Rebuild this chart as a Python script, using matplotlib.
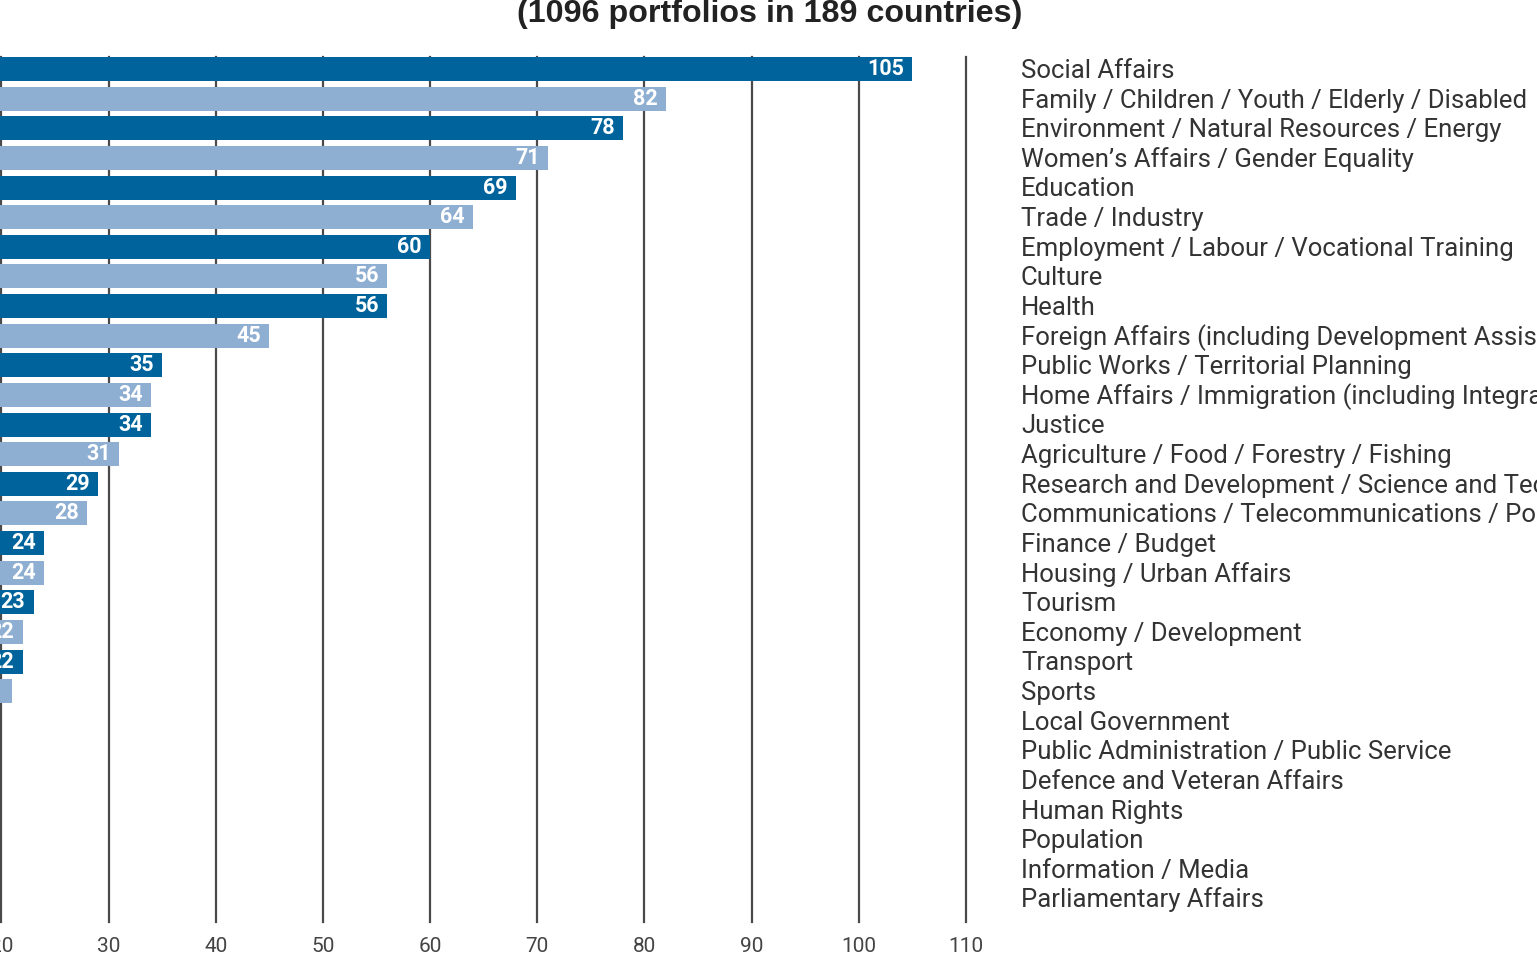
import matplotlib
matplotlib.use("Agg")
import matplotlib.pyplot as plt
from matplotlib.transforms import blended_transform_factory

categories = [
    "Social Affairs",
    "Family / Children / Youth / Elderly / Disabled",
    "Environment / Natural Resources / Energy",
    "Women\u2019s Affairs / Gender Equality",
    "Education",
    "Trade / Industry",
    "Employment / Labour / Vocational Training",
    "Culture",
    "Health",
    "Foreign Affairs (including Development Assistance)",
    "Public Works / Territorial Planning",
    "Home Affairs / Immigration (including Integration)",
    "Justice",
    "Agriculture / Food / Forestry / Fishing",
    "Research and Development / Science and Technology",
    "Communications / Telecommunications / Post",
    "Finance / Budget",
    "Housing / Urban Affairs",
    "Tourism",
    "Economy / Development",
    "Transport",
    "Sports",
    "Local Government",
    "Public Administration / Public Service",
    "Defence and Veteran Affairs",
    "Human Rights",
    "Population",
    "Information / Media",
    "Parliamentary Affairs",
]
# printed value labels
values = [105, 82, 78, 71, 69, 64, 60, 56, 56, 45, 35, 34, 34, 31, 29, 28,
          24, 24, 23, 22, 22, 21, 19, 16, 14, 12, 9, 7, 6]
# bar lengths as drawn in the picture (Education bar is drawn at ~68)
bar_lengths = [105, 82, 78, 71, 68, 64, 60, 56, 56, 45, 35, 34, 34, 31, 29, 28,
               24, 24, 23, 22, 22, 21, 19, 16, 14, 12, 9, 7, 6]
xticks = list(range(0, 111, 10))
title = "(1096 portfolios in 189 countries)"

DARK = "#00639B"
LIGHT = "#8EAED2"
FAM = ["Roboto", "DejaVu Sans"]
TFAM = ["Liberation Sans", "DejaVu Sans"]

W, H = 1537, 975
fig = plt.figure(figsize=(W / 100, H / 100), dpi=100)
left_px, right_px = -213, 966
top_px, bot_px = 57, 922
ax = fig.add_axes([left_px / W, 1 - bot_px / H, (right_px - left_px) / W,
                   (bot_px - top_px) / H])

n = len(categories)
ypos = list(range(n))
colors = [DARK if i % 2 == 0 else LIGHT for i in range(n)]
ax.barh(ypos, bar_lengths, height=0.81, color=colors, zorder=3)
ax.set_xlim(0, 110)
ax.set_ylim(28.79, -0.405)

for x in xticks:
    ax.axvline(x, color="#4a4a4a", lw=1.6, zorder=1, clip_on=False)

for s in ax.spines.values():
    s.set_visible(False)
ax.set_yticks([])
ax.set_xticks(xticks)
ax.set_xticklabels([str(x) for x in xticks], family=FAM, fontsize=15,
                   color="#444444")
ax.tick_params(axis="x", length=0, pad=11)

for i, (b, v) in enumerate(zip(bar_lengths, values)):
    ax.annotate(str(v), xy=(b, i), xytext=(-6, 0), textcoords="offset points",
                ha="right", va="center", color="white", fontsize=15.5,
                fontweight="bold", family=FAM, zorder=4)

tr = blended_transform_factory(fig.transFigure, ax.transData)
for i, c in enumerate(categories):
    ax.text(1021 / W, i + 0.30, c, transform=tr, ha="left", va="baseline",
            fontsize=18.5, color="#333333", family=FAM, clip_on=False)

fig.text(770 / W, 1 - 22 / H, title, ha="center", va="baseline",
         fontsize=23.2, fontweight="bold", color="#222222", family=TFAM)

fig.savefig("out.png", dpi=100)
